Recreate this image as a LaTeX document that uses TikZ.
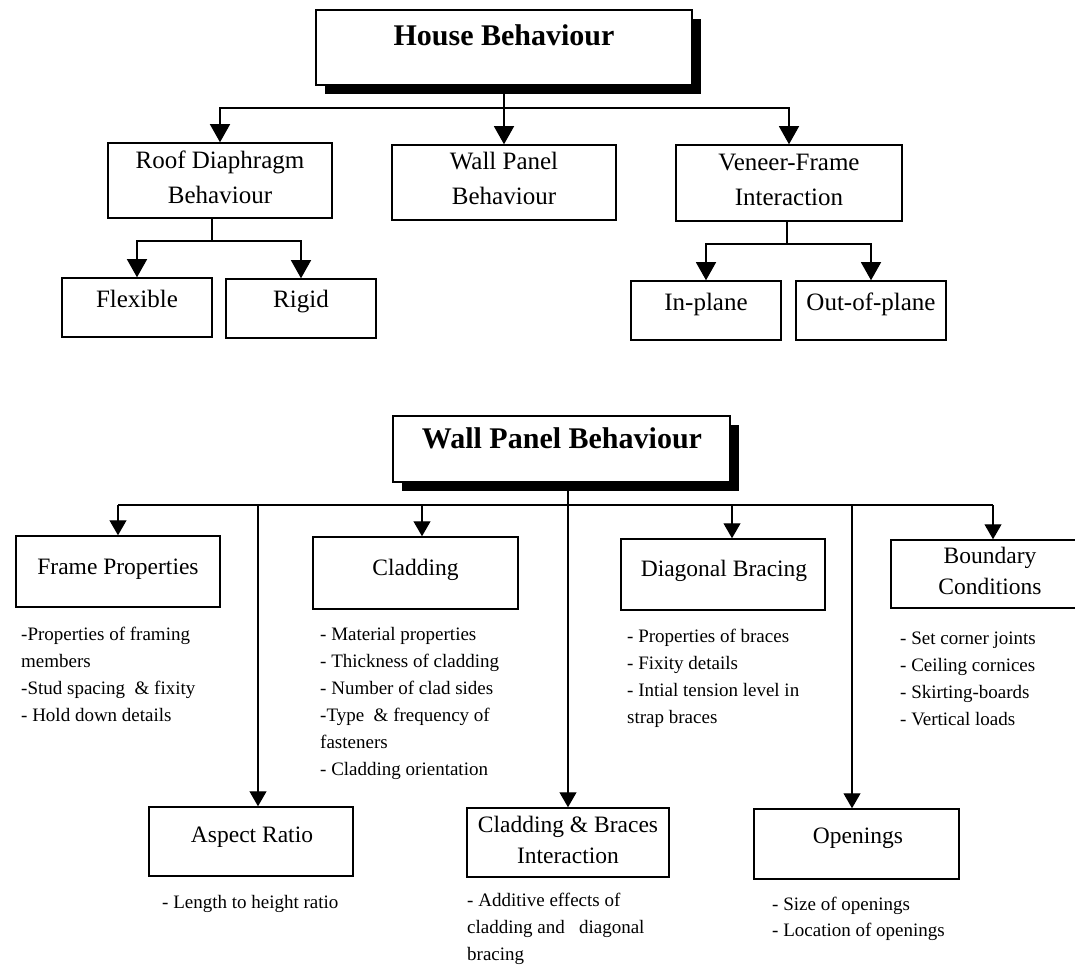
\documentclass[tikz,border=0pt]{standalone}
\usepackage{fontspec}
\setmainfont{Liberation Serif}
\usetikzlibrary{arrows.meta,shadows}
\begin{document}
\begin{tikzpicture}[x=1pt,y=-1pt,
  box/.style={draw,line width=1.5pt,fill=white,inner sep=0pt},
  ln/.style={line width=1.2pt},
  arrT/.style={ln,-{Triangle[length=18pt,width=20pt]}},
  arrB/.style={ln,-{Triangle[length=15pt,width=17pt]}},
  tt/.style={font=\bfseries\fontsize{30}{36}\selectfont,anchor=base,inner sep=0pt},
  tone/.style={font=\fontsize{25}{35}\selectfont,anchor=base,align=center,inner sep=0pt},
  ttwo/.style={font=\fontsize{23.5}{31}\selectfont,anchor=base,align=center,inner sep=0pt},
  lst/.style={font=\fontsize{19}{27}\selectfont,anchor=base west,align=left,inner sep=0pt},
  shad/.style={drop shadow={shadow xshift=9pt,shadow yshift=-9pt,fill=black,opacity=1}}
]
\useasboundingbox[fill=white] (0,0) rectangle (1075,965);

% ---------- top diagram ----------
\node[box,shad,minimum width=376pt,minimum height=75pt] (hb) at (504,47.5) {};
\node[tt] (hbt) at (504,46) {House Behaviour};

\node[box,minimum width=224pt,minimum height=75pt] (rd) at (220,180.5) {};
\node[tone] (rdt) at (220,204) {Roof Diaphragm\\Behaviour};
\node[box,minimum width=224pt,minimum height=75pt] (wp) at (504,182.5) {};
\node[tone] (wpt) at (504,205) {Wall Panel\\Behaviour};
\node[box,minimum width=226pt,minimum height=76pt] (vf) at (789,183) {};
\node[tone] (vft) at (789,206) {Veneer-Frame\\Interaction};

\node[box,minimum width=150pt,minimum height=59pt] (fl) at (137,307.5) {};
\node[tone] (flt) at (137,308) {Flexible};
\node[box,minimum width=150pt,minimum height=59pt] (rg) at (301,308.5) {};
\node[tone] (rgt) at (301,308) {Rigid};
\node[box,minimum width=150pt,minimum height=59pt] (ip) at (706,310.5) {};
\node[tone] (ipt) at (706,310) {In-plane};
\node[box,minimum width=150pt,minimum height=59pt] (op) at (871,310.5) {};
\node[tone] (opt) at (871,310) {Out-of-plane};

\coordinate (tj) at (504,108);
\draw[arrT] (hb.south) -- (wp.north);
\draw[arrT] (tj) -| (rd.north);
\draw[arrT] (tj) -| (vf.north);
\coordinate (rj) at (212,241);
\draw[ln] (rj |- rd.south) -- (rj);
\draw[arrT] (rj) -| (fl.north);
\draw[arrT] (rj) -| (rg.north);
\coordinate (vj) at (787,244);
\draw[ln] (vj |- vf.south) -- (vj);
\draw[arrT] (vj) -| (ip.north);
\draw[arrT] (vj) -| (op.north);

% ---------- bottom diagram ----------
\node[box,shad,minimum width=337pt,minimum height=66pt] (wpb) at (561.5,449) {};
\node[tt] (wpbt) at (562,448) {Wall Panel Behaviour};

\node[box,minimum width=204pt,minimum height=71pt] (fp) at (118,571.5) {};
\node[ttwo] (fpt) at (118,574) {Frame Properties};
\node[box,minimum width=205pt,minimum height=72pt] (cl) at (415.5,573) {};
\node[ttwo] (clt) at (415.5,575) {Cladding};
\node[box,minimum width=204pt,minimum height=71pt] (db) at (723,574.5) {};
\node[ttwo] (dbt) at (724,576) {Diagonal Bracing};
\node[box,minimum width=199pt,minimum height=68pt] (bd) at (990.5,574) {};
\node[ttwo] (bdt) at (990,594) {Boundary\\Conditions};

\node[box,minimum width=204pt,minimum height=69pt] (ar) at (251,841.5) {};
\node[ttwo] (art) at (252,842) {Aspect Ratio};
\node[box,minimum width=202pt,minimum height=69pt] (cb) at (568,842.5) {};
\node[ttwo] (cbt) at (568,863) {Cladding \& Braces\\Interaction};
\node[box,minimum width=205pt,minimum height=70pt] (opn) at (856.5,844) {};
\node[ttwo] (opnt) at (858,843) {Openings};

\node[lst] (fpl) at (21,721) {-Properties of framing\\members\\-Stud spacing\ \ \& fixity\\- Hold down details};
\node[lst] (cll) at (320,775) {- Material properties\\- Thickness of cladding\\- Number of clad sides\\-Type\ \ \& frequency of\\fasteners\\- Cladding orientation};
\node[lst] (dbl) at (627,723) {- Properties of braces\\- Fixity details\\- Intial tension level in\\strap braces};
\node[lst] (bdl) at (900,725) {- Set corner joints\\- Ceiling cornices\\- Skirting-boards\\- Vertical loads};
\node[lst] (arl) at (162,908) {- Length to height ratio};
\node[lst] (cbl) at (467,960) {- Additive effects of\\cladding and\ \ \ diagonal\\bracing};
\node[lst] (opnl) at (772,936) {- Size of openings\\[-1pt]- Location of openings};

\coordinate (bj) at (568,505);
\coordinate (bL) at (118,505);
\coordinate (bR) at (993,505);
\coordinate (aAr) at (258,505);
\coordinate (aCl) at (422,505);
\coordinate (aDb) at (732,505);
\coordinate (aOp) at (852,505);
\draw[ln] (bL) -- (bR);
\draw[arrB] (wpb.south -| bj) -- (cb.north);
\draw[arrB] (bL) -- (fp.north);
\draw[arrB] (aAr) -- (aAr |- ar.north);
\draw[arrB] (aCl) -- (aCl |- cl.north);
\draw[arrB] (aDb) -- (aDb |- db.north);
\draw[arrB] (aOp) -- (aOp |- opn.north);
\draw[arrB] (bR) -- (bR |- bd.north);
\end{tikzpicture}
\end{document}
